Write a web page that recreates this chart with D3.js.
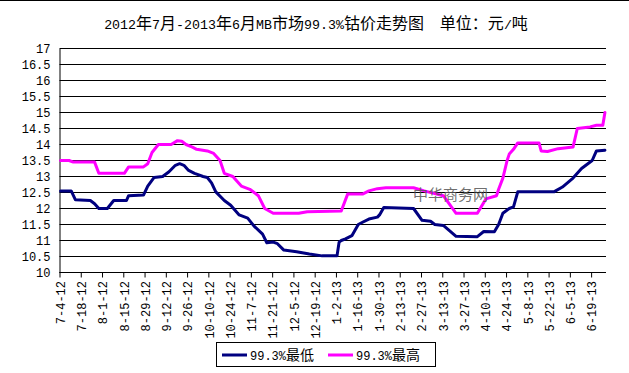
<!DOCTYPE html>
<html><head><meta charset="utf-8">
<script src="https://cdn.jsdelivr.net/npm/d3@7"></script>
<style>
html,body{margin:0;padding:0;background:#fff;}
svg{display:block;}
</style></head>
<body>
<svg id="chart" width="629" height="373"></svg>
<script>
const titleText = "2012年7月-2013年6月MB市场99.3%钴价走势图  单位：元/吨";
const seriesNames = ["99.3%最低", "99.3%最高"];
const seriesColors = ["#000080", "#FF00FF"];
const watermark = "中华商务网";

const startDate = "2012-07-04";
const endDate = "2013-06-27";

const xTickLabels = ["7-4-12","7-18-12","8-1-12","8-15-12","8-29-12","9-12-12","9-26-12","10-10-12","10-24-12","11-7-12","11-21-12","12-5-12","12-19-12","1-2-13","1-16-13","1-30-13","2-13-13","2-27-13","3-13-13","3-27-13","4-10-13","4-24-13","5-8-13","5-22-13","6-5-13","6-19-13"];
const yTicks = [10,10.5,11,11.5,12,12.5,13,13.5,14,14.5,15,15.5,16,16.5,17];

const lowDates = ["2012-07-04","2012-07-11","2012-07-13","2012-07-24","2012-07-26","2012-07-30","2012-08-03","2012-08-08","2012-08-16","2012-08-17","2012-08-28","2012-08-30","2012-09-04","2012-09-10","2012-09-13","2012-09-18","2012-09-20","2012-09-24","2012-09-26","2012-10-01","2012-10-03","2012-10-05","2012-10-09","2012-10-11","2012-10-15","2012-10-19","2012-10-24","2012-10-30","2012-11-05","2012-11-08","2012-11-14","2012-11-16","2012-11-21","2012-11-23","2012-11-28","2012-12-06","2012-12-14","2012-12-24","2013-01-02","2013-01-03","2013-01-04","2013-01-08","2013-01-11","2013-01-16","2013-01-18","2013-01-23","2013-01-29","2013-01-30","2013-02-01","2013-02-21","2013-02-27","2013-03-05","2013-03-07","2013-03-13","2013-03-21","2013-04-04","2013-04-09","2013-04-16","2013-04-18","2013-04-22","2013-04-25","2013-04-29","2013-05-01","2013-05-24","2013-05-30","2013-06-06","2013-06-12","2013-06-19","2013-06-21","2013-06-27"];
const lowValues = [12.55,12.55,12.27,12.25,12.15,12.0,12.0,12.25,12.25,12.4,12.42,12.7,12.97,13.0,13.15,13.35,13.4,13.35,13.2,13.1,13.05,13.0,12.97,12.8,12.52,12.25,12.1,11.8,11.7,11.45,11.2,10.93,10.95,10.9,10.7,10.65,10.58,10.52,10.52,10.95,11.0,11.05,11.15,11.5,11.57,11.67,11.73,11.8,12.03,12.0,11.63,11.6,11.5,11.47,11.13,11.12,11.28,11.27,11.5,11.85,12.0,12.05,12.52,12.52,12.67,12.95,13.25,13.5,13.8,13.82];

const highDates = ["2012-07-04","2012-07-10","2012-07-12","2012-07-26","2012-07-30","2012-08-15","2012-08-17","2012-08-28","2012-08-30","2012-09-03","2012-09-06","2012-09-14","2012-09-19","2012-09-21","2012-09-25","2012-09-28","2012-10-02","2012-10-09","2012-10-12","2012-10-17","2012-10-19","2012-10-25","2012-10-31","2012-11-06","2012-11-12","2012-11-15","2012-11-21","2012-12-07","2012-12-13","2013-01-04","2013-01-09","2013-01-18","2013-01-23","2013-01-29","2013-02-04","2013-02-21","2013-02-28","2013-03-13","2013-03-21","2013-04-04","2013-04-10","2013-04-17","2013-04-18","2013-04-22","2013-04-24","2013-04-25","2013-04-29","2013-05-01","2013-05-15","2013-05-16","2013-05-21","2013-05-28","2013-06-06","2013-06-10","2013-06-18","2013-06-21","2013-06-26","2013-06-27"];
const highValues = [13.5,13.5,13.45,13.45,13.1,13.1,13.3,13.3,13.4,13.75,14.0,14.0,14.12,14.1,14.0,13.92,13.85,13.8,13.72,13.5,13.1,13.0,12.7,12.6,12.4,12.0,11.85,11.85,11.9,11.92,12.45,12.45,12.55,12.62,12.65,12.65,12.55,12.4,11.85,11.85,12.3,12.4,12.6,12.95,13.5,13.7,13.85,14.05,14.05,13.8,13.78,13.87,13.92,14.5,14.55,14.6,14.6,15.0];

// ---- helpers ----
const parseISO = d3.timeParse("%Y-%m-%d");
function parseLabel(s){ const p=s.split("-").map(Number); return new Date(2000+p[2], p[0]-1, p[1]); }
const t0 = parseISO(startDate);
function bizIndex(d){ return d3.timeDay.range(t0, d).filter(x=>x.getDay()!==0 && x.getDay()!==6).length; }
const nCats = bizIndex(d3.timeDay.offset(parseISO(endDate),1));

const ASCII = "Liberation Mono, DejaVu Sans Mono, monospace";
const CJK = "Noto Sans CJK SC, sans-serif";
function mixed(sel, str, aSize, cSize){
  (str.match(/[\x00-\x7F]+|[^\x00-\x7F]+/g)||[]).forEach(run=>{
    const isA = /^[\x00-\x7F]/.test(run);
    sel.append("tspan").attr("font-family", isA?ASCII:CJK).attr("font-size", isA?aSize:cSize)
      .attr("xml:space","preserve").style("white-space","pre").text(run);
  });
}

const svg = d3.select("#chart");
svg.append("rect").attr("width",629).attr("height",373).attr("fill","#fff");
svg.append("line").attr("x1",0).attr("x2",629).attr("y1",0.5).attr("y2",0.5).attr("stroke","#000");

const x = d3.scaleLinear().domain([0, nCats]).range([59.5, 606]);
const y = d3.scaleLinear().domain([10, 17]).range([272.5, 48.5]);

// gridlines
svg.append("g").selectAll("line").data(yTicks).join("line")
  .attr("x1", 59.5).attr("x2", 606).attr("y1", d=>y(d)).attr("y2", d=>y(d))
  .attr("stroke","#000").attr("stroke-width",1);

// y axis
const yAxis = d3.axisLeft(y).tickValues(yTicks).tickSize(0).tickPadding(9).tickFormat(d=>String(d));
const gy = svg.append("g").attr("transform","translate(59.5,0)").call(yAxis);
gy.select(".domain").attr("stroke","#000");
gy.selectAll("text").attr("font-family",ASCII).attr("font-size",12).attr("fill","#000");

// x axis
const tickIdx = xTickLabels.map(s=>bizIndex(parseLabel(s)));
const xAxis = d3.axisBottom(x).tickValues(tickIdx).tickSize(5).tickFormat("");
const gx = svg.append("g").attr("transform","translate(0,272.5)").call(xAxis);
gx.select(".domain").attr("stroke","#000").attr("d","M59.5,0H606");
gx.selectAll(".tick line").attr("stroke","#000");
svg.append("g").selectAll("text").data(xTickLabels).join("text")
  .attr("transform",(d,i)=>`translate(${x(tickIdx[i]+0.5)},281) rotate(-90)`)
  .attr("text-anchor","end").attr("dy","0.35em")
  .attr("font-family",ASCII).attr("font-size",12).attr("fill","#000")
  .text(d=>d);

// series
const line = d3.line().x(d=>x(d.i+0.5)).y(d=>y(d.v));
const series = [
  lowDates.map((d,k)=>({i:bizIndex(parseISO(d)), v:lowValues[k]})),
  highDates.map((d,k)=>({i:bizIndex(parseISO(d)), v:highValues[k]}))
];
series.forEach((s,k)=>{
  svg.append("path").datum(s).attr("d",line).attr("fill","none")
    .attr("stroke",seriesColors[k]).attr("stroke-width",3)
    .attr("stroke-linejoin","round").attr("stroke-linecap","round");
});

// watermark
svg.append("text").attr("x",413).attr("y",200).attr("font-family",CJK).attr("font-size",15)
  .attr("fill","#555").attr("fill-opacity",0.85).text(watermark);

// title
const tt = svg.append("text").attr("x",316).attr("y",29).attr("text-anchor","middle").attr("fill","#000");
mixed(tt, titleText, 13.3, 16);

// legend
const lg = svg.append("g");
lg.append("rect").attr("x",216.5).attr("y",342.5).attr("width",219).attr("height",24)
  .attr("fill","#fff").attr("stroke","#000");
const legX = [222, 328];
seriesNames.forEach((n,k)=>{
  lg.append("line").attr("x1",legX[k]).attr("x2",legX[k]+25).attr("y1",355).attr("y2",355)
    .attr("stroke",seriesColors[k]).attr("stroke-width",3);
  const t = lg.append("text").attr("x",legX[k]+28).attr("y",360).attr("fill","#000");
  mixed(t, n, 12, 14);
});
</script>
</body></html>
